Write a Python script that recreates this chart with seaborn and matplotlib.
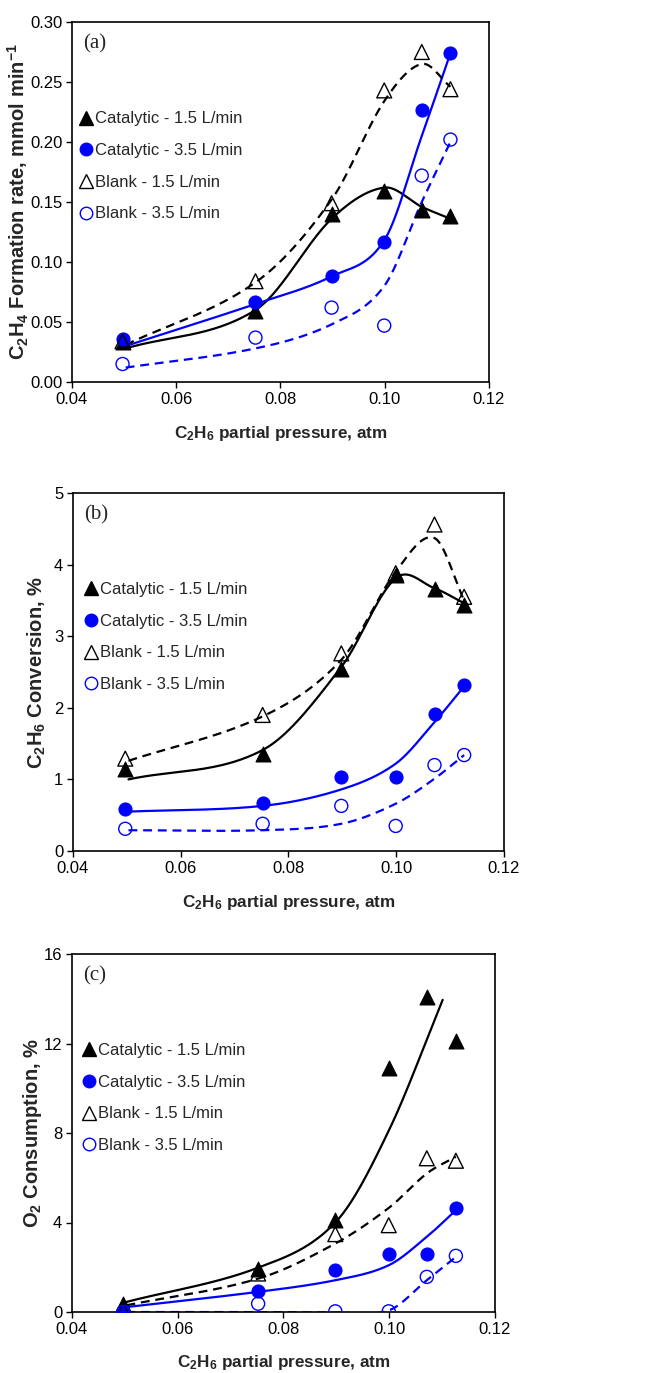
import numpy as np
import matplotlib
matplotlib.use("Agg")
import matplotlib.pyplot as plt
from matplotlib.lines import Line2D
import seaborn as sns

# ---------------- data ----------------
pressure = [0.0497, 0.0752, 0.0898, 0.0999, 0.1071, 0.1126]
series_labels = ["Catalytic - 1.5 L/min", "Catalytic - 3.5 L/min",
                 "Blank - 1.5 L/min", "Blank - 3.5 L/min"]

# (a) C2H4 formation rate, mmol/min
rate_cat15 = [0.033, 0.059, 0.140, 0.159, 0.143, 0.138]
rate_cat35 = [0.036, 0.067, 0.088, 0.117, 0.227, 0.274]
rate_bl15 = [0.034, 0.084, 0.149, 0.243, 0.275, 0.244]
rate_bl35 = [0.015, 0.037, 0.062, 0.047, 0.172, 0.202]

# (b) C2H6 conversion, %
conv_cat15 = [1.14, 1.35, 2.54, 3.85, 3.66, 3.44]
conv_cat35 = [0.59, 0.67, 1.04, 1.04, 1.92, 2.32]
conv_bl15 = [1.29, 1.90, 2.76, 3.88, 4.56, 3.55]
conv_bl35 = [0.31, 0.38, 0.63, 0.35, 1.20, 1.34]

# (c) O2 consumption, %
o2_cat15 = [0.37, 1.90, 4.10, 10.9, 14.1, 12.1]
o2_cat35 = [0.05, 0.93, 1.87, 2.61, 2.57, 4.67]
o2_bl15 = [0.05, 1.72, 3.48, 3.88, 6.87, 6.76]
o2_bl35 = [0.00, 0.37, 0.03, 0.03, 1.57, 2.51]

# fitted trend curves (values at the fit nodes)
fit_x = [0.0503, 0.0752, 0.0898, 0.0999, 0.1071, 0.1126]
fit_x_c15 = [0.0503, 0.0752, 0.0898, 0.0999, 0.1101]

fit_rate_cat15 = [0.028, 0.060, 0.136, 0.162, 0.146, 0.136]
fit_rate_cat35 = [0.030, 0.065, 0.088, 0.118, 0.205, 0.274]
fit_rate_bl15 = [0.031, 0.083, 0.152, 0.234, 0.265, 0.246]
fit_rate_bl35 = [0.012, 0.028, 0.048, 0.080, 0.150, 0.200]

fit_conv_cat15 = [1.00, 1.41, 2.57, 3.81, 3.67, 3.46]
fit_conv_cat35 = [0.55, 0.63, 0.86, 1.22, 1.80, 2.30]
fit_conv_bl15 = [1.26, 1.88, 2.67, 3.90, 4.37, 3.50]
fit_conv_bl35 = [0.29, 0.29, 0.38, 0.66, 1.01, 1.34]

fit_o2_cat15 = [0.45, 1.98, 4.00, 8.10, 13.95]
fit_o2_cat35 = [0.22, 0.90, 1.42, 2.09, 3.36, 4.55]
fit_o2_bl15 = [0.30, 1.49, 3.06, 4.65, 6.19, 6.94]
fit_o2_bl35 = [0.00, 0.00, -0.02, 0.07, 1.42, 2.46]


def smooth(xs, ys, n=60):
    """Cubic Hermite (Catmull-Rom style tangents in x) smooth curve through nodes."""
    x = np.asarray(xs, float)
    y = np.asarray(ys, float)
    m = np.empty_like(y)
    m[1:-1] = (y[2:] - y[:-2]) / (x[2:] - x[:-2])
    m[0] = (y[1] - y[0]) / (x[1] - x[0])
    m[-1] = (y[-1] - y[-2]) / (x[-1] - x[-2])
    ox, oy = [], []
    for i in range(len(x) - 1):
        h = x[i + 1] - x[i]
        t = np.linspace(0, 1, n, endpoint=(i == len(x) - 2))
        h00 = 2 * t ** 3 - 3 * t ** 2 + 1
        h10 = t ** 3 - 2 * t ** 2 + t
        h01 = -2 * t ** 3 + 3 * t ** 2
        h11 = t ** 3 - t ** 2
        ox.append(x[i] + t * h)
        oy.append(h00 * y[i] + h10 * h * m[i] + h01 * y[i + 1] + h11 * h * m[i + 1])
    return np.concatenate(ox), np.concatenate(oy)


# ---------------- style ----------------
sns.set_style("ticks")
REG = ["Liberation Sans", "DejaVu Sans"]
plt.rcParams["font.family"] = REG
plt.rcParams["mathtext.default"] = "regular"
plt.rcParams["axes.linewidth"] = 1.2
plt.rcParams["xtick.direction"] = "out"
plt.rcParams["ytick.direction"] = "out"

BLUE = "#0000FF"
W, H = 659, 1373
fig = plt.figure(figsize=(W / 100, H / 100), dpi=100)

panels = [
    dict(rect=(72, 22, 489, 382), letter="(a)",
         ylabel=r"C$_2$H$_4$ Formation rate, mmol min$^{-1}$",
         ylim=(0, 0.30), yticks=np.arange(0, 0.301, 0.05), yfmt="{:.2f}",
         data=[rate_cat15, rate_cat35, rate_bl15, rate_bl35],
         fits=[(fit_x, fit_rate_cat15), (fit_x, fit_rate_cat35),
               (fit_x, fit_rate_bl15), (fit_x, fit_rate_bl35)],
         ylab_x=-54, leg_x=0.004),
    dict(rect=(73, 493, 504, 851), letter="(b)",
         ylabel=r"C$_2$H$_6$ Conversion, %",
         ylim=(0, 5), yticks=np.arange(0, 5.1, 1), yfmt="{:.0f}",
         data=[conv_cat15, conv_cat35, conv_bl15, conv_bl35],
         fits=[(fit_x, fit_conv_cat15), (fit_x, fit_conv_cat35),
               (fit_x, fit_conv_bl15), (fit_x, fit_conv_bl35)],
         ylab_x=-36, leg_x=0.012),
    dict(rect=(72, 954, 495, 1312), letter="(c)",
         ylabel=r"O$_2$ Consumption, %",
         ylim=(0, 16), yticks=np.arange(0, 16.1, 4), yfmt="{:.0f}",
         data=[o2_cat15, o2_cat35, o2_bl15, o2_bl35],
         fits=[(fit_x_c15, fit_o2_cat15), (fit_x, fit_o2_cat35),
               (fit_x, fit_o2_bl15), (fit_x, fit_o2_bl35)],
         ylab_x=-39, leg_x=0.010),
]

line_styles = [("black", "-"), (BLUE, "-"), ("black", (0, (4, 2.6))), (BLUE, (0, (4, 2.6)))]
marker_styles = [
    dict(marker="^", s=115, color="black", edgecolor="black", linewidth=0.8),
    dict(marker="o", s=88, color=BLUE, edgecolor=BLUE, linewidth=0.8),
    dict(marker="^", s=115, facecolors="none", edgecolor="black", linewidth=1.0),
    dict(marker="o", s=88, facecolors="none", edgecolor=BLUE, linewidth=1.0),
]

for pan in panels:
    l, t, r, b = pan["rect"]
    ax = fig.add_axes([l / W, 1 - b / H, (r - l) / W, (b - t) / H])
    # trend curves
    for (fx, fy), (col, ls) in zip(pan["fits"], line_styles):
        sx, sy = smooth(fx, fy)
        sns.lineplot(x=sx, y=sy, sort=False, estimator=None, ax=ax,
                     color=col, linestyle=ls, linewidth=1.6)
    # data points
    for ys, ms in zip(pan["data"], marker_styles):
        sns.scatterplot(x=pressure, y=ys, ax=ax, zorder=5, **ms)

    ax.set_xlim(0.04, 0.12)
    ax.set_ylim(*pan["ylim"])
    ax.set_xticks(np.arange(0.04, 0.1201, 0.02))
    ax.set_xticklabels([f"{v:.2f}" for v in np.arange(0.04, 0.1201, 0.02)])
    ax.set_yticks(pan["yticks"])
    ax.set_yticklabels([pan["yfmt"].format(v) for v in pan["yticks"]])
    ax.tick_params(labelsize=12, length=4, width=1.0, pad=3, colors="black")
    for sp in ax.spines.values():
        sp.set_visible(True)
        sp.set_color("black")
    ax.set_xlabel(r"C$_2$H$_6$ partial pressure, atm", fontsize=12.3, fontweight="bold")
    ax.xaxis.set_label_coords(0.5, -51 / (b - t), transform=ax.transAxes)
    ax.xaxis.label.set_va("center")
    ax.set_ylabel(pan["ylabel"], fontsize=14.5, fontweight="bold")
    ax.yaxis.label.set_va("center")
    ax.yaxis.set_label_coords(pan["ylab_x"] / (r - l), 0.5)

    ax.text(0.026, 0.94, pan["letter"], transform=ax.transAxes,
            fontsize=15, family=["Liberation Serif", "DejaVu Serif"], va="center", ha="left")

    handles = [
        Line2D([], [], linestyle="none", marker="^", markersize=10, color="black"),
        Line2D([], [], linestyle="none", marker="o", markersize=9, color=BLUE),
        Line2D([], [], linestyle="none", marker="^", markersize=10, markerfacecolor="none",
               markeredgecolor="black"),
        Line2D([], [], linestyle="none", marker="o", markersize=9, markerfacecolor="none",
               markeredgecolor=BLUE),
    ]
    ax.legend(handles, series_labels, loc="upper left", bbox_to_anchor=(pan["leg_x"], 0.77),
              frameon=False, fontsize=12, handlelength=0.7, handletextpad=0.2,
              labelspacing=1.0, borderaxespad=0)

fig.savefig("out.png", dpi=100)
